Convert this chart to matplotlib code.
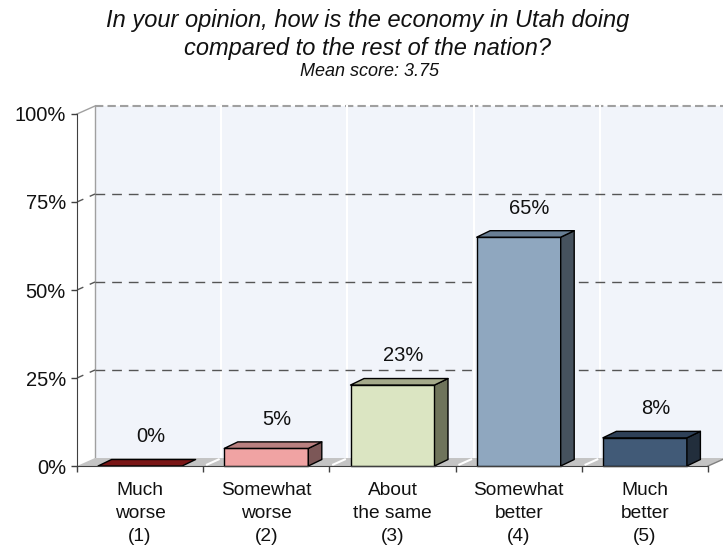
import matplotlib
matplotlib.use("Agg")
import matplotlib.pyplot as plt
from matplotlib.patches import Polygon

plt.rcParams['font.family'] = ['Liberation Sans', 'DejaVu Sans']

# Survey data
categories = ["Much\nworse\n(1)", "Somewhat\nworse\n(2)", "About\nthe same\n(3)",
              "Somewhat\nbetter\n(4)", "Much\nbetter\n(5)"]
percentages = [0, 5, 23, 65, 8]
value_labels = ["0%", "5%", "23%", "65%", "8%"]
y_ticks = [0, 25, 50, 75, 100]
y_tick_labels = ["0%", "25%", "50%", "75%", "100%"]
title = "In your opinion, how is the economy in Utah doing\ncompared to the rest of the nation?"
subtitle = "Mean score: 3.75"

# Face colours per bar: front, top, side
front_colors = ["#7a1616", "#f0a3a3", "#dbe5c2", "#8fa7bf", "#415a77"]
top_colors = ["#6e1212", "#b98080", "#a5aa8b", "#687e94", "#2e4057"]
side_colors = ["#5a0e0e", "#7c5757", "#6f745b", "#46525e", "#222e3c"]

W, H = 723, 546
fig = plt.figure(figsize=(W / 100, H / 100), dpi=100)
ax = fig.add_axes([77 / W, 80 / H, 631 / W, 352 / H])
n = len(categories)
ax.set_xlim(0, n)
ax.set_ylim(0, 100)
ax.patch.set_visible(False)

# pixel -> data scale factors for the pseudo-3D depth
px_x = n / 631.0
px_y = 100 / 352.0
wall_dx, wall_dy = 18 * px_x, 8 * px_y
bar_dx, bar_dy = 13.5 * px_x, 6.5 * px_y
bar_w = 84 * px_x

# back wall
ax.add_patch(Polygon([(wall_dx, wall_dy), (n + wall_dx, wall_dy),
                      (n + wall_dx, 100 + wall_dy), (wall_dx, 100 + wall_dy)],
                     closed=True, facecolor="#f1f4fa", edgecolor="none",
                     clip_on=False, zorder=0))
ax.plot([wall_dx, wall_dx], [wall_dy, 100 + wall_dy], color="#a0a0a0", lw=1,
        clip_on=False, zorder=1)
ax.plot([wall_dx, n + wall_dx], [100 + wall_dy, 100 + wall_dy], color="#a0a0a0",
        lw=1.5, ls=(0, (4, 2)), clip_on=False, zorder=1)
ax.plot([0, wall_dx], [100, 100 + wall_dy], color="#a0a0a0", lw=1,
        clip_on=False, zorder=1)

# white separators on back wall
for k in range(1, n + 1):
    ax.plot([k + wall_dx, k + wall_dx], [wall_dy, 100 + wall_dy], color="white",
            lw=1.5, clip_on=False, zorder=1)

# dashed gridlines on back wall and left wall
for t in y_ticks[1:-1]:
    ax.plot([wall_dx, n + wall_dx], [t + wall_dy, t + wall_dy], color="#555555",
            lw=1, ls=(0, (7, 5)), clip_on=False, zorder=2)
    ax.plot([0, wall_dx], [t, t + wall_dy], color="#555555", lw=1,
            ls=(2, (7, 5)), clip_on=False, zorder=2)

# floor
ax.add_patch(Polygon([(0, 0), (n, 0), (n + wall_dx, wall_dy), (wall_dx, wall_dy)],
                     closed=True, facecolor="#c4c4c4", edgecolor="none",
                     clip_on=False, zorder=2))
for k in range(1, n):
    ax.plot([k + 0.03, k + wall_dx - 0.02], [0.4, wall_dy - 0.4], color="white",
            lw=1.5, clip_on=False, zorder=2)
ax.plot([n, n + wall_dx], [0, wall_dy], color="#808080", lw=1, clip_on=False, zorder=2)

# 3D bars
for i, v in enumerate(percentages):
    x0 = i + (1 - bar_w) / 2
    x1 = x0 + bar_w
    kw = dict(closed=True, edgecolor="black", lw=1, clip_on=False, zorder=3,
              joinstyle="round")
    if v > 0:
        ax.add_patch(Polygon([(x0, 0), (x1, 0), (x1, v), (x0, v)],
                             facecolor=front_colors[i], **kw))
        ax.add_patch(Polygon([(x1, 0), (x1 + bar_dx, bar_dy),
                              (x1 + bar_dx, v + bar_dy), (x1, v)],
                             facecolor=side_colors[i], **kw))
    ax.add_patch(Polygon([(x0, v), (x1, v), (x1 + bar_dx, v + bar_dy),
                          (x0 + bar_dx, v + bar_dy)],
                         facecolor=top_colors[i] if v > 0 else front_colors[i], **kw))
    ax.annotate(value_labels[i], xy=(i + 0.5, v), xytext=(7.5, 21),
                textcoords="offset points", ha="center", va="center",
                fontsize=14.5, color="#111111")

# axes and ticks
for s in ["top", "right"]:
    ax.spines[s].set_visible(False)
ax.spines["left"].set_color("#404040")
ax.spines["bottom"].set_color("#404040")
ax.spines["left"].set_zorder(4)
ax.spines["bottom"].set_zorder(4)
ax.set_yticks(y_ticks)
ax.set_yticklabels(y_tick_labels, fontsize=14.5, color="#111111")
ax.tick_params(axis="y", length=4, width=1, color="#404040", pad=4)
ax.set_xticks(range(n + 1))
ax.set_xticklabels([])
ax.set_xticks([i + 0.5 for i in range(n)], minor=True)
ax.set_xticklabels(categories, minor=True, fontsize=13.8, color="#111111",
                   linespacing=1.48)
ax.tick_params(axis="x", which="major", length=4.5, width=1, color="#404040")
ax.tick_params(axis="x", which="minor", length=0, pad=11.5)

# titles
fig.text(368 / W, 1 - 34.5 / H, title, ha="center", va="center", fontsize=17,
         style="italic", linespacing=1.24, color="#111111")
fig.text(369 / W, 1 - 71 / H, subtitle, ha="center", va="center", fontsize=13,
         style="italic", color="#111111")

fig.savefig("out.png", dpi=100)
